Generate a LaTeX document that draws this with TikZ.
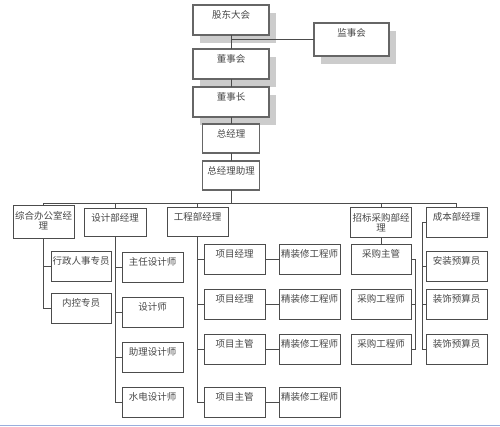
\documentclass[tikz,border=0pt]{standalone}
\usepackage{fontspec}
\newfontfamily\cjk{Noto Sans CJK SC}
\usetikzlibrary{shadows}
\definecolor{bordblue}{HTML}{9AAEDC}
\begin{document}
\begin{tikzpicture}[x=1pt,y=-1pt,
  box/.style={draw=black!70, line width=0.7pt, fill=white, inner sep=0pt, outer sep=0pt},
  topbox/.style={box, draw=black!60, line width=1.6pt},
  shbox/.style={topbox, drop shadow={shadow xshift=7pt, shadow yshift=-8pt, fill=black!20, opacity=1}},
  txt/.style={anchor=north, font=\cjk\fontsize{9.5}{10}\selectfont, text=black!72, inner sep=0pt, yshift=-5.5pt, align=center},
  txttwo/.style={txt, yshift=-0.5pt},
  conn/.style={draw=black!70, line width=0.7pt},
  small/.style={box, minimum width=61, minimum height=30}
]
\useasboundingbox[fill=white] (0,0) rectangle (500,426);
\draw[bordblue, line width=1pt] (0,425) -- (500,425);

% top chain
\node[shbox, minimum width=76, minimum height=30, label={[txt]north:股东大会}] (gd) at (231,20) {};
\node[shbox, minimum width=75, minimum height=33, label={[txt]north:监事会}] (js) at (351.5,39.5) {};
\node[shbox, minimum width=76, minimum height=30, label={[txt]north:董事会}] (dsh) at (231,64) {};
\node[shbox, minimum width=76, minimum height=30, label={[txt]north:董事长}] (dsz) at (231,102) {};
\node[topbox, minimum width=57, minimum height=29, label={[txt]north:总经理}] (zjl) at (231,138.5) {};
\node[topbox, minimum width=57, minimum height=29, label={[txt]north:总经理助理}] (zz) at (231,175.5) {};

% departments
\node[box, minimum width=61, minimum height=33, label={[txttwo]north:综合办公室经\\理}] (zh) at (43.5,221.5) {};
\node[box, minimum width=62, minimum height=28, label={[txt]north:设计部经理}] (sj) at (115,222) {};
\node[box, minimum width=61, minimum height=29, label={[txt]north:工程部经理}] (gc) at (197.5,221.5) {};
\node[box, minimum width=61, minimum height=30, label={[txttwo]north:招标采购部经\\理}] (zb) at (381,222) {};
\node[box, minimum width=61, minimum height=30, label={[txt]north:成本部经理}] (cb) at (456.5,222) {};

% office
\node[small, minimum width=60, label={[txt]north:行政人事专员}] (xz) at (81,266) {};
\node[small, minimum width=60, label={[txt]north:内控专员}] (nk) at (81,308) {};

% design
\node[small, label={[txt]north:主任设计师}] (zr) at (152.5,267) {};
\node[small, label={[txt]north:设计师}] (sjs) at (152.5,312) {};
\node[small, label={[txt]north:助理设计师}] (zl) at (152.5,357) {};
\node[small, label={[txt]north:水电设计师}] (sd) at (152.5,402) {};

% engineering
\node[small, label={[txt]north:项目经理}] (xm1) at (234.5,259) {};
\node[small, label={[txt]north:项目经理}] (xm2) at (234.5,304) {};
\node[small, label={[txt]north:项目主管}] (xg1) at (234.5,349) {};
\node[small, label={[txt]north:项目主管}] (xg2) at (234.5,402) {};
\node[small, label={[txt]north:精装修工程师}] (jz1) at (309.5,259) {};
\node[small, label={[txt]north:精装修工程师}] (jz2) at (309.5,304) {};
\node[small, label={[txt]north:精装修工程师}] (jz3) at (309.5,349) {};
\node[small, label={[txt]north:精装修工程师}] (jz4) at (309.5,402) {};

% procurement
\node[small, minimum width=60, label={[txt]north:采购主管}] (cg) at (381,259) {};
\node[small, minimum width=60, label={[txt]north:采购工程师}] (cgg1) at (381,304) {};
\node[small, minimum width=60, label={[txt]north:采购工程师}] (cgg2) at (381,349) {};

% cost
\node[small, label={[txt]north:安装预算员}] (az) at (456.5,266) {};
\node[small, label={[txt]north:装饰预算员}] (zs1) at (456.5,304) {};
\node[small, label={[txt]north:装饰预算员}] (zs2) at (456.5,349) {};

% connectors top
\draw[conn] (gd.south) -- (dsh.north);
\draw[conn] (js.west) -- (js.west -| gd.south);
\draw[conn] (dsh.south) -- (dsz.north);
\draw[conn] (dsz.south) -- (zjl.north);
\draw[conn] (zjl.south) -- (zz.north);

\coordinate (busL) at (43.5,203);
\coordinate (busR) at (456.5,203);
\draw[conn] (zz.south) -- (zz.south |- busL);
\draw[conn] (busL) -- (busR);
\foreach \n in {zh,sj,gc,zb,cb} \draw[conn] (\n.north) -- (\n.north |- busL);

% office
\draw[conn] (zh.south) -- (zh.south |- nk.west) -- (nk.west);
\draw[conn] (zh.south |- xz.west) -- (xz.west);
% design
\draw[conn] (sj.south) -- (sj.south |- sd.west) -- (sd.west);
\foreach \n in {zr,sjs,zl} \draw[conn] (sj.south |- \n.west) -- (\n.west);
% engineering
\draw[conn] (gc.south) -- (gc.south |- xg2.west) -- (xg2.west);
\foreach \n in {xm1,xm2,xg1} \draw[conn] (gc.south |- \n.west) -- (\n.west);
\draw[conn] (xm1.east) -- (jz1.west);
\draw[conn] (xm2.east) -- (jz2.west);
\draw[conn] (xg1.east) -- (jz3.west);
\draw[conn] (xg2.east) -- (jz4.west);
% procurement
\draw[conn] (zb.south) -- (cg.north);
\draw[conn] (cg.east) -- ++(4,0) |- (cgg2.east);
\draw[conn] (cgg1.east) -- ++(4,0);
% cost
\draw[conn] (cb.west) -- ++(-4,0) |- (zs2.west);
\draw[conn] (az.west) -- ++(-4,0);
\draw[conn] (zs1.west) -- ++(-4,0);
\end{tikzpicture}
\end{document}
